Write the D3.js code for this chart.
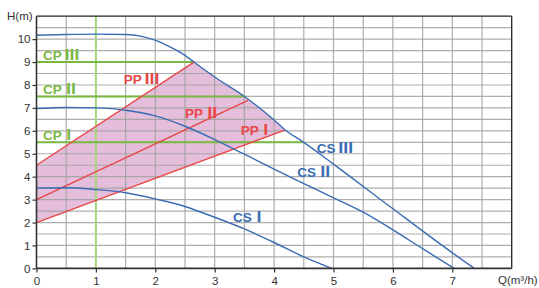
<!DOCTYPE html>
<html>
<head>
<meta charset="utf-8">
<script src="https://cdn.jsdelivr.net/npm/d3@7"></script>
<style>
  html, body { margin: 0; padding: 0; background: #fff; }
  svg { display: block; }
  text { font-family: "Liberation Sans", Arial, "DejaVu Sans", sans-serif; }
</style>
</head>
<body>
<svg id="chart" width="539" height="288"></svg>
<script>
// ---- data ----
const xTicks = [0, 1, 2, 3, 4, 5, 6, 7];
const yTicks = [0, 1, 2, 3, 4, 5, 6, 7, 8, 9, 10];

// pump curves (Q m3/h, H m)
const csIII = [[0,10.17],[0.5,10.2],[1,10.22],[1.5,10.2],[1.75,10.13],[1.9,10.03],[2.1,9.85],[2.25,9.66],[2.45,9.38],[2.65,9.0],[3,8.35],[3.5,7.5],[4,6.47],[4.18,6.05],[4.5,5.5],[5,4.55],[6,2.6],[7,0.68],[7.37,0]];
const csII  = [[0,6.97],[0.5,7.02],[1,7.0],[1.5,6.9],[2,6.65],[2.5,6.2],[3,5.62],[3.5,4.98],[4,4.33],[4.5,3.7],[5,3.08],[5.5,2.45],[6,1.68],[6.5,0.86],[7.03,0]];
const csI   = [[0,3.5],[0.5,3.52],[1,3.44],[1.5,3.3],[2,3.03],[2.5,2.7],[2.75,2.47],[3,2.23],[3.5,1.72],[4,1.13],[4.5,0.5],[4.97,0]];

// proportional pressure lines
const ppI   = [[0,2],[4.18,6.03]];
const ppII  = [[0,3],[3.56,7.33]];
const ppIII = [[0,4.5],[2.65,9.0]];

// constant pressure lines
const cpI   = [[0,5.5],[4.49,5.5]];
const cpII  = [[0,7.5],[3.52,7.5]];
const cpIII = [[0,9],[2.65,9]];

// labels (prefix, numeral, Q, H)
const cpLabels = [["CP","Ⅲ",0.11,9],["CP","Ⅱ",0.11,7.5],["CP","Ⅰ",0.11,5.5]];
const ppLabels = [["PP","Ⅲ",1.47,8.04],["PP","Ⅱ",2.5,6.55],["PP","Ⅰ",3.44,5.81]];
const csLabels = [["CS","Ⅲ",4.72,5.03],["CS","Ⅱ",4.39,3.98],["CS","Ⅰ",3.31,2.02]];

// ---- drawing ----
const svg = d3.select("#chart");
const x = d3.scaleLinear().domain([0, 8]).range([36.5, 511.7]);
const y = d3.scaleLinear().domain([0, 11]).range([268.4, 16.2]);

const blue = "#3a6cb4", red = "#e94646", green = "#78b843", pink = "#e4bedb";

const line = d3.line().x(d => x(d[0])).y(d => y(d[1]));
const curve = d3.line().x(d => x(d[0])).y(d => y(d[1])).curve(d3.curveMonotoneX);

// pink region: PP I -> CS III (between) -> PP III -> axis
const x3a = ppIII[1][0], x3b = ppI[1][0];
const region = [[0, ppI[0][1]], ppI[1]]
  .concat(csIII.filter(p => p[0] > x3a && p[0] < x3b).reverse())
  .concat([ppIII[1], [0, ppIII[0][1]]]);
svg.append("path")
  .attr("d", line(region) + "Z")
  .attr("fill", pink).attr("stroke", "none");

// grid (drawn over the pink, as in the reference)
const gridX = d3.range(0.5, 8, 0.5);
const gridY = d3.range(0.5, 11, 0.5);
svg.append("g").selectAll("line").data(gridY).join("line")
  .attr("x1", x(0)).attr("x2", x(8))
  .attr("y1", d => y(d)).attr("y2", d => y(d))
  .attr("stroke", "#a0a0a0").attr("stroke-width", 1.2).attr("opacity", 0.85);
svg.append("g").selectAll("line").data(gridX.filter(d => d !== 1)).join("line")
  .attr("y1", y(0)).attr("y2", y(11))
  .attr("x1", d => x(d)).attr("x2", d => x(d))
  .attr("stroke", "#a0a0a0").attr("stroke-width", 1.2).attr("opacity", 0.85);

// green vertical line at Q=1
svg.append("line")
  .attr("x1", x(1)).attr("x2", x(1)).attr("y1", y(0)).attr("y2", y(11))
  .attr("stroke", "#a6d47c").attr("stroke-width", 2);

// CP lines
[cpI, cpII, cpIII].forEach(d => svg.append("path").attr("d", line(d))
  .attr("fill", "none").attr("stroke", green).attr("stroke-width", 2));

// PP lines
[ppI, ppII, ppIII].forEach(d => svg.append("path").attr("d", line(d))
  .attr("fill", "none").attr("stroke", red).attr("stroke-width", 1.4));

// CS curves
[csI, csII, csIII].forEach(d => svg.append("path").attr("d", curve(d))
  .attr("fill", "none").attr("stroke", blue).attr("stroke-width", 1.4));

// frame
svg.append("line").attr("x1", x(0)).attr("x2", x(8)).attr("y1", y(11)).attr("y2", y(11))
  .attr("stroke", "#222").attr("stroke-width", 1.3);
svg.append("line").attr("x1", x(8)).attr("x2", x(8)).attr("y1", y(0)).attr("y2", y(11))
  .attr("stroke", "#222").attr("stroke-width", 1.3);

// axes
const xAxis = d3.axisBottom(x).tickValues(xTicks).tickSize(4).tickPadding(4).tickFormat(d3.format("d"));
const yAxis = d3.axisLeft(y).tickValues(yTicks).tickSize(4).tickPadding(2).tickFormat(d3.format("d"));
const gx = svg.append("g").attr("transform", `translate(0,${y(0)})`).call(xAxis);
const gy = svg.append("g").attr("transform", `translate(${x(0)},0)`).call(yAxis);
[gx, gy].forEach(g => {
  g.select(".domain").attr("stroke", "#333").attr("stroke-width", 1.6);
  g.selectAll(".tick line").attr("stroke", "#333").attr("stroke-width", 1.2);
  g.selectAll(".tick text").attr("fill", "#333").style("font-size", "11.5px")
    .style("font-family", "'Liberation Sans', Arial, sans-serif");
});
gx.select(".domain").attr("d", `M${x(0)},0H${x(8)}`);
gy.select(".domain").attr("d", `M0,${y(0)}V${y(11)}`);

// axis titles
svg.append("text").attr("x", 7).attr("y", 20).text("H(m)")
  .attr("fill", "#333").style("font-size", "11.5px");
svg.append("text").attr("x", 498).attr("y", 284)
  .attr("fill", "#333").style("font-size", "11.5px")
  .text("Q(m³/h)");

// labels: prefix and Roman numeral set side by side (no overlapping boxes)
const numeralGap = { "Ⅰ": 0, "Ⅱ": 2.2, "Ⅲ": 3.2 };
function labels(arr, color, dy) {
  const t = svg.append("g").selectAll("text").data(arr).join("text")
    .attr("x", d => x(d[2])).attr("y", d => y(d[3]) + dy)
    .attr("fill", color)
    .style("font-size", "13.5px").style("font-weight", "bold");
  t.append("tspan").text(d => d[0]);
  t.append("tspan").text(d => d[1])
    .attr("dx", d => numeralGap[d[1]])
    .style("font-family", "'Noto Sans CJK SC', sans-serif")
    .style("font-weight", "900").style("font-size", "14px");
}
labels(cpLabels, green, -2);
labels(ppLabels, red, 0);
labels(csLabels, blue, 0);
</script>
</body>
</html>
